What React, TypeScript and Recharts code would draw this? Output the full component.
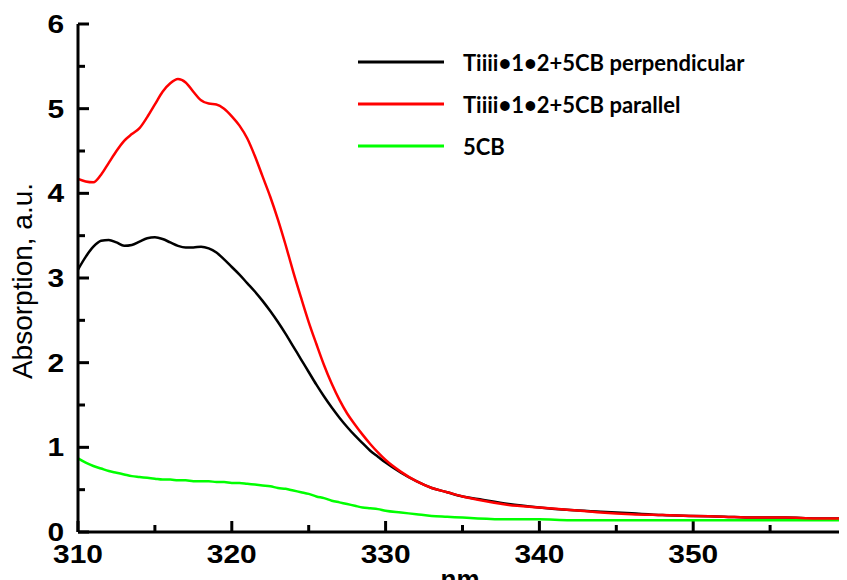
import React from 'react';
import { LineChart, Line, XAxis, YAxis, Label, ReferenceLine } from 'recharts';

// wavelength, nm
const wavelength = [
  310, 310.5, 311, 311.5, 312, 312.5, 313, 313.5, 314, 314.5,
  315, 315.5, 316, 316.5, 317, 317.5, 318, 318.5, 319, 319.5,
  320, 320.5, 321, 321.5, 322, 322.5, 323, 323.5, 324, 324.5,
  325, 325.5, 326, 326.5, 327, 327.5, 328, 328.5, 329, 329.5,
  330, 331, 332, 333, 334, 335, 336, 338, 340, 342,
  344, 346, 348, 350, 352, 354, 356, 358, 360
];

const perpendicular = [
  3.10, 3.25, 3.37, 3.44, 3.45, 3.42, 3.38, 3.39, 3.43, 3.47,
  3.48, 3.46, 3.42, 3.38, 3.36, 3.36, 3.37, 3.35, 3.30, 3.22,
  3.13, 3.04, 2.94, 2.84, 2.73, 2.61, 2.48, 2.34, 2.19, 2.04,
  1.89, 1.74, 1.60, 1.47, 1.35, 1.24, 1.14, 1.05, 0.96, 0.89,
  0.82, 0.70, 0.60, 0.52, 0.47, 0.42, 0.39, 0.33, 0.29, 0.26,
  0.24, 0.22, 0.20, 0.19, 0.18, 0.17, 0.17, 0.16, 0.16
];

const parallel = [
  4.17, 4.14, 4.13, 4.22, 4.36, 4.50, 4.62, 4.70, 4.77, 4.90,
  5.05, 5.20, 5.30, 5.35, 5.31, 5.20, 5.10, 5.06, 5.05, 5.00,
  4.91, 4.80, 4.65, 4.44, 4.20, 3.96, 3.69, 3.39, 3.07, 2.77,
  2.48, 2.22, 1.97, 1.75, 1.56, 1.40, 1.27, 1.15, 1.04, 0.94,
  0.85, 0.71, 0.60, 0.52, 0.47, 0.42, 0.38, 0.32, 0.29, 0.26,
  0.23, 0.21, 0.20, 0.19, 0.18, 0.17, 0.17, 0.16, 0.16
];

const lc5cb = [
  0.87, 0.82, 0.78, 0.75, 0.72, 0.70, 0.68, 0.66, 0.65, 0.64,
  0.63, 0.62, 0.62, 0.61, 0.61, 0.60, 0.60, 0.60, 0.59, 0.59,
  0.58, 0.58, 0.57, 0.56, 0.55, 0.54, 0.52, 0.51, 0.49, 0.47,
  0.45, 0.42, 0.40, 0.37, 0.35, 0.33, 0.31, 0.29, 0.28, 0.27,
  0.25, 0.23, 0.21, 0.19, 0.18, 0.17, 0.16, 0.15, 0.15, 0.14,
  0.14, 0.14, 0.14, 0.14, 0.14, 0.14, 0.14, 0.14, 0.14
];

const xTicks = [310, 315, 320, 325, 330, 335, 340, 345, 350, 355];
const yTicks = [0, 0.5, 1, 1.5, 2, 2.5, 3, 3.5, 4, 4.5, 5, 5.5, 6];

const legendItems = [
  { name: 'Tiiii\u20221\u20222+5CB perpendicular', color: '#000000' },
  { name: 'Tiiii\u20221\u20222+5CB parallel', color: '#ff0000' },
  { name: '5CB', color: '#00ff00' }
];

const data = wavelength.map((nm, i) => ({
  nm,
  perpendicular: perpendicular[i],
  parallel: parallel[i],
  lc: lc5cb[i]
}));

const tickFont = {
  fontFamily: '"Liberation Sans", Arial, sans-serif',
  fontWeight: 700,
  fontSize: 26,
  fill: '#000'
};

// x tick label only; the tick marks themselves are reference segments below
const XTick = (props: any) => {
  const { x, y, payload } = props;
  if (payload.value % 10 !== 0) return <g />;
  return (
    <text transform={`translate(${x},${y + 31}) scale(1.15,1)`} textAnchor="middle" {...tickFont}>
      {payload.value}
    </text>
  );
};

const YTick = (props: any) => {
  const { x, y, payload } = props;
  const major = Number.isInteger(payload.value);
  const len = major ? 11 : 7;
  return (
    <g>
      <rect x={x} y={y - 1.5} width={len} height={3} fill="#000" />
      {major && (
        <text transform={`translate(${x - 14},${y + 9}) scale(1.15,1)`} textAnchor="end" {...tickFont}>
          {payload.value}
        </text>
      )}
    </g>
  );
};

export default function App() {
  return (
    <div style={{ position: 'relative', width: 839, height: 572 }}>
      <LineChart
        width={839}
        height={572}
        data={data}
        margin={{ top: 16, right: 0, left: 0, bottom: 0 }}
      >
        <XAxis
          type="number"
          dataKey="nm"
          domain={[310, 360]}
          ticks={xTicks}
          tick={<XTick />}
          tickLine={false}
          tickSize={0}
          tickMargin={0}
          height={48}
          axisLine={{ stroke: '#000', strokeWidth: 3 }}
          interval={0}
        >
          <Label
            content={() => (
              <text x={452} y={580} textAnchor="middle" {...tickFont}>
                nm
              </text>
            )}
          />
        </XAxis>
        <YAxis
          type="number"
          domain={[0, 6]}
          ticks={yTicks}
          tick={<YTick />}
          tickLine={false}
          tickSize={0}
          tickMargin={0}
          width={70}
          axisLine={{ stroke: '#000', strokeWidth: 3 }}
          interval={0}
        >
          <Label
            content={() => (
              <text
                x={24}
                y={273}
                transform="rotate(-90, 24, 273)"
                textAnchor="middle"
                fontFamily='"Liberation Sans", Arial, sans-serif'
                fontSize={28}
                fill="#000"
              >
                Absorption, a.u.
              </text>
            )}
          />
        </YAxis>
        {/* inward x ticks: long at labelled values, short in between */}
        {xTicks.map((t) => (
          <ReferenceLine
            key={t}
            segment={[
              { x: t, y: 0 },
              { x: t, y: t % 10 === 0 ? 0.13 : 0.083 }
            ]}
            stroke="#000"
            strokeWidth={3}
          />
        ))}
        <Line type="monotone" dataKey="perpendicular" stroke="#000000" strokeWidth={2.5} dot={false} isAnimationActive={false} />
        <Line type="monotone" dataKey="lc" stroke="#00ff00" strokeWidth={2.5} dot={false} isAnimationActive={false} />
        <Line type="monotone" dataKey="parallel" stroke="#ff0000" strokeWidth={2.5} dot={false} isAnimationActive={false} />
      </LineChart>

      {/* Legend */}
      <div style={{ position: 'absolute', left: 350, top: 33 }}>
        {legendItems.map((d) => (
          <div key={d.name} style={{ display: 'flex', alignItems: 'center', height: 42 }}>
            <svg width={86} height={6} style={{ display: 'block' }}>
              <line x1={0} x2={86} y1={3} y2={3} stroke={d.color} strokeWidth={3} />
            </svg>
            <span
              style={{
                marginLeft: 19,
                fontFamily: 'Lato, "Open Sans", sans-serif',
                fontWeight: 700,
                fontSize: 22,
                color: '#000',
                whiteSpace: 'nowrap'
              }}
            >
              {d.name}
            </span>
          </div>
        ))}
      </div>
    </div>
  );
}
